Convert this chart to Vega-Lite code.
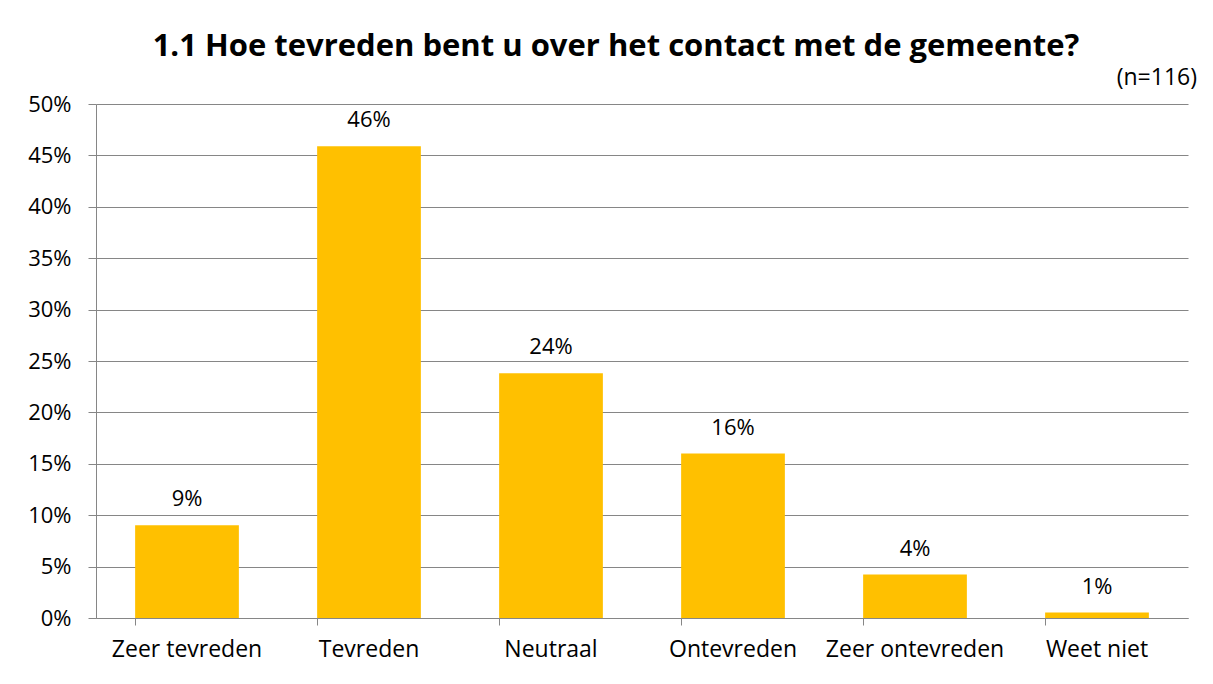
{
  "$schema": "https://vega.github.io/schema/vega-lite/v6.json",
  "autosize": {"type": "none"},
  "width": 1092,
  "height": 514,
  "padding": {"left": 96, "top": 104, "right": 25, "bottom": 66},
  "background": "white",
  "title": {
    "text": "1.1 Hoe tevreden bent u over het contact met de gemeente?",
    "font": "Open Sans",
    "fontSize": 31,
    "fontWeight": "bold",
    "color": "black",
    "anchor": "middle",
    "frame": "group",
    "dx": -26,
    "offset": 4
  },
  "data": {
    "values": [
      {"antwoord": "Zeer tevreden", "aandeel": 0.0902},
      {"antwoord": "Tevreden", "aandeel": 0.459},
      {"antwoord": "Neutraal", "aandeel": 0.238},
      {"antwoord": "Ontevreden", "aandeel": 0.160},
      {"antwoord": "Zeer ontevreden", "aandeel": 0.0422},
      {"antwoord": "Weet niet", "aandeel": 0.0053}
    ]
  },
  "layer": [
    {
      "mark": {"type": "bar", "color": "#FFC000"},
      "encoding": {
        "x": {
          "field": "antwoord",
          "type": "nominal",
          "sort": null,
          "scale": {"paddingInner": 0.43, "paddingOuter": 0.215},
          "axis": {
            "title": null,
            "labelAngle": 0,
            "labelFont": "Open Sans",
            "labelFontSize": 23,
            "labelColor": "black",
            "labelPadding": 13,
            "bandPosition": 0,
            "tickSize": 7,
            "tickColor": "#868686",
            "domainColor": "#868686",
            "grid": false
          }
        },
        "y": {
          "field": "aandeel",
          "type": "quantitative",
          "scale": {"domain": [0, 0.5], "nice": false},
          "axis": {
            "title": null,
            "format": ".0%",
            "values": [0, 0.05, 0.1, 0.15, 0.2, 0.25, 0.3, 0.35, 0.4, 0.45, 0.5],
            "labelFont": "Open Sans",
            "labelFontSize": 22,
            "labelColor": "black",
            "labelPadding": 17,
            "tickSize": 8,
            "tickColor": "#868686",
            "domainColor": "#868686",
            "gridColor": "#868686",
            "gridWidth": 1.2
          }
        }
      }
    },
    {
      "mark": {"type": "text", "baseline": "alphabetic", "dy": -19, "font": "Open Sans", "fontSize": 22, "color": "black"},
      "encoding": {
        "x": {"field": "antwoord", "type": "nominal", "sort": null},
        "y": {"field": "aandeel", "type": "quantitative"},
        "text": {"field": "aandeel", "type": "quantitative", "format": ".0%"}
      }
    },
    {
      "data": {"values": [{"n": "(n=116)", "antwoord": "Weet niet", "top": 0.5}]},
      "mark": {"type": "text", "align": "right", "baseline": "alphabetic", "dx": 100, "dy": -19, "font": "Open Sans", "fontSize": 23, "color": "black"},
      "encoding": {
        "x": {"field": "antwoord", "type": "nominal", "sort": null},
        "y": {"field": "top", "type": "quantitative"},
        "text": {"field": "n", "type": "nominal"}
      }
    }
  ],
  "config": {"view": {"stroke": null}}
}
